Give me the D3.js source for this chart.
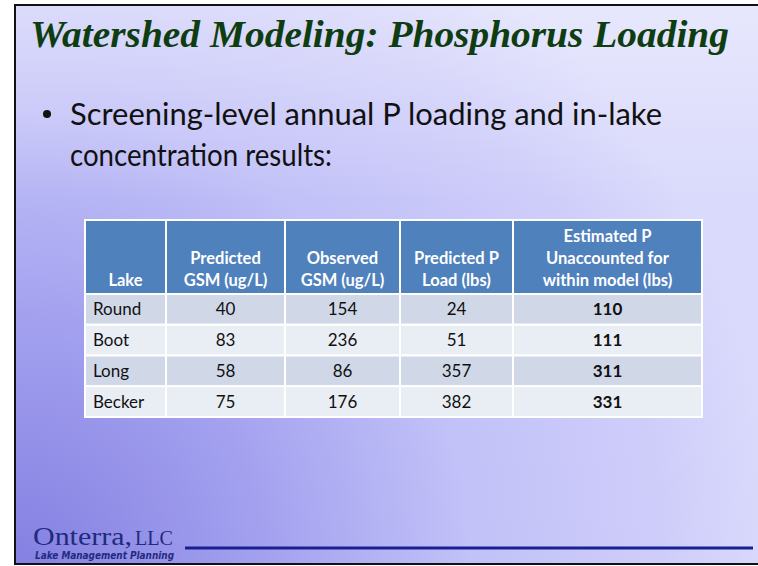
<!DOCTYPE html>
<html>
<head>
<meta charset="utf-8">
<script src="https://cdn.jsdelivr.net/npm/d3@7/dist/d3.min.js"></script>
<style>
  html, body { margin: 0; padding: 0; background: #ffffff; }
  svg { display: block; }
</style>
</head>
<body>
<svg id="slide" width="758" height="566"></svg>
<script>
// table data
var lakes = [ 'Round', 'Boot', 'Long', 'Becker' ];
var predictedGSM = [ 40, 83, 58, 75 ];
var observedGSM = [ 154, 236, 86, 176 ];
var predictedLoad = [ 24, 51, 357, 382 ];
var unaccounted = [ 110, 111, 311, 331 ];
var headers = [
	[ 'Lake' ],
	[ 'Predicted', 'GSM (ug/L)' ],
	[ 'Observed', 'GSM (ug/L)' ],
	[ 'Predicted P', 'Load (lbs)' ],
	[ 'Estimated P', 'Unaccounted for', 'within model (lbs)' ]
];
var columns = [ lakes, predictedGSM, observedGSM, predictedLoad, unaccounted ];

var W = 758, H = 566;
var svg = d3.select( '#slide' );
var defs = svg.append( 'defs' );

// background
var grad = defs.append( 'radialGradient' )
	.attr( 'id', 'bg' )
	.attr( 'gradientUnits', 'userSpaceOnUse' )
	.attr( 'cx', 15 ).attr( 'cy', 566 ).attr( 'r', 760 );
grad.append( 'stop' ).attr( 'offset', 0 ).attr( 'stop-color', '#8480e2' );
grad.append( 'stop' ).attr( 'offset', 0.3 ).attr( 'stop-color', '#a09eee' );
grad.append( 'stop' ).attr( 'offset', 0.6 ).attr( 'stop-color', '#c2c1f8' );
grad.append( 'stop' ).attr( 'offset', 0.85 ).attr( 'stop-color', '#cecdfa' );
grad.append( 'stop' ).attr( 'offset', 1 ).attr( 'stop-color', '#dadafc' );

var sheen = defs.append( 'linearGradient' )
	.attr( 'id', 'sheen' )
	.attr( 'x1', 0 ).attr( 'y1', 0 ).attr( 'x2', 0 ).attr( 'y2', 1 );
sheen.append( 'stop' ).attr( 'offset', 0 ).attr( 'stop-color', '#ffffff' ).attr( 'stop-opacity', 0.35 );
sheen.append( 'stop' ).attr( 'offset', 0.35 ).attr( 'stop-color', '#ffffff' ).attr( 'stop-opacity', 0 );

svg.append( 'rect' ).attr( 'width', W ).attr( 'height', H ).attr( 'fill', '#ffffff' );
svg.append( 'rect' )
	.attr( 'x', 15 ).attr( 'y', 5 )
	.attr( 'width', W ).attr( 'height', 559 )
	.attr( 'fill', 'url(#bg)' );
svg.append( 'rect' )
	.attr( 'x', 15 ).attr( 'y', 5 )
	.attr( 'width', W ).attr( 'height', 559 )
	.attr( 'fill', 'url(#sheen)' )
	.attr( 'stroke', '#111111' )
	.attr( 'stroke-width', 2 );

// title
svg.append( 'text' )
	.attr( 'x', 30 ).attr( 'y', 47 )
	.attr( 'textLength', 699 )
	.attr( 'lengthAdjust', 'spacingAndGlyphs' )
	.style( 'font', 'italic bold 38px "Liberation Serif", serif' )
	.style( 'fill', '#0f3d12' )
	.text( 'Watershed Modeling: Phosphorus Loading' );

// bullet
var bullet = svg.append( 'g' ).style( 'font', '30px Lato, "Open Sans", sans-serif' ).style( 'fill', '#111111' );
bullet.append( 'circle' ).attr( 'cx', 47 ).attr( 'cy', 114 ).attr( 'r', 4 ).attr( 'fill', '#111111' );
bullet.append( 'text' ).attr( 'x', 70 ).attr( 'y', 125 )
	.attr( 'textLength', 592 ).attr( 'lengthAdjust', 'spacingAndGlyphs' )
	.text( 'Screening-level annual P loading and in-lake' );
bullet.append( 'text' ).attr( 'x', 70 ).attr( 'y', 166 )
	.attr( 'textLength', 262 ).attr( 'lengthAdjust', 'spacingAndGlyphs' )
	.text( 'concentration results:' );

// table
var colEdges = [ 85, 166, 285, 400, 513, 702 ];
var headTop = 220, headBottom = 294, tableBottom = 417;

var y = d3.scaleBand()
	.domain( d3.range( lakes.length ) )
	.range( [ headBottom, tableBottom ] );

var col = d3.scaleOrdinal()
	.domain( d3.range( columns.length ) )
	.range( colEdges.slice( 0, -1 ) );
var colW = function( i ) { return colEdges[ i + 1 ] - colEdges[ i ]; };

var table = svg.append( 'g' ).attr( 'class', 'table' );

// header cells
var head = table.selectAll( 'g.head' )
	.data( headers )
	.enter()
	.append( 'g' )
	.attr( 'class', 'head' );

head.append( 'rect' )
	.attr( 'x', function( d, i ) { return col( i ); } )
	.attr( 'y', headTop )
	.attr( 'width', function( d, i ) { return colW( i ); } )
	.attr( 'height', headBottom - headTop )
	.attr( 'fill', '#4f81bd' )
	.attr( 'stroke', '#ffffff' )
	.attr( 'stroke-width', 2 );

head.each( function( lines, i ) {
	var g = d3.select( this );
	var lh = 22;
	var n = lines.length;
	g.selectAll( 'text' )
		.data( lines )
		.enter()
		.append( 'text' )
		.attr( 'x', col( i ) + colW( i ) / 2 )
		.attr( 'y', function( t, k ) { return 286 - ( n - 1 - k ) * lh; } )
		.attr( 'text-anchor', 'middle' )
		.style( 'font', 'bold 16.5px Lato, "Open Sans", sans-serif' )
		.style( 'fill', '#ffffff' )
		.text( function( t ) { return t; } );
} );

// body rows
var rows = table.selectAll( 'g.row' )
	.data( lakes )
	.enter()
	.append( 'g' )
	.attr( 'class', 'row' );

rows.each( function( lake, r ) {
	var g = d3.select( this );
	columns.forEach( function( values, c ) {
		g.append( 'rect' )
			.attr( 'x', col( c ) )
			.attr( 'y', y( r ) )
			.attr( 'width', colW( c ) )
			.attr( 'height', y.bandwidth() )
			.attr( 'fill', r % 2 === 0 ? '#d0d8e8' : '#e9edf4' )
			.attr( 'stroke', '#ffffff' )
			.attr( 'stroke-width', 2 );

		g.append( 'text' )
			.attr( 'x', c === 0 ? col( c ) + 8 : col( c ) + colW( c ) / 2 )
			.attr( 'y', y( r ) + y.bandwidth() / 2 + 6 )
			.attr( 'text-anchor', c === 0 ? 'start' : 'middle' )
			.style( 'font', ( c === 4 ? 'bold ' : '' ) + '17px Lato, "Open Sans", sans-serif' )
			.style( 'fill', '#111111' )
			.text( values[ r ] );
	} );
} );

// footer logo and rule
var logo = svg.append( 'g' ).style( 'fill', '#1f2b7e' );
logo.append( 'text' )
	.attr( 'x', 33 ).attr( 'y', 545 )
	.style( 'font', '26px "Liberation Serif", serif' )
	.attr( 'textLength', 99 ).attr( 'lengthAdjust', 'spacingAndGlyphs' )
	.text( 'Onterra,' );
logo.append( 'text' )
	.attr( 'x', 135 ).attr( 'y', 545 )
	.style( 'font', '20px "Liberation Serif", serif' )
	.attr( 'textLength', 38 ).attr( 'lengthAdjust', 'spacingAndGlyphs' )
	.text( 'LLC' );
logo.append( 'text' )
	.attr( 'x', 35 ).attr( 'y', 559 )
	.style( 'font', 'italic bold 11px "DejaVu Sans", sans-serif' )
	.attr( 'textLength', 139 ).attr( 'lengthAdjust', 'spacingAndGlyphs' )
	.text( 'Lake Management Planning' );

svg.append( 'line' )
	.attr( 'x1', 185 ).attr( 'x2', 753 )
	.attr( 'y1', 548 ).attr( 'y2', 548 )
	.attr( 'stroke', '#1a2090' )
	.attr( 'stroke-width', 3 );
</script>
</body>
</html>
